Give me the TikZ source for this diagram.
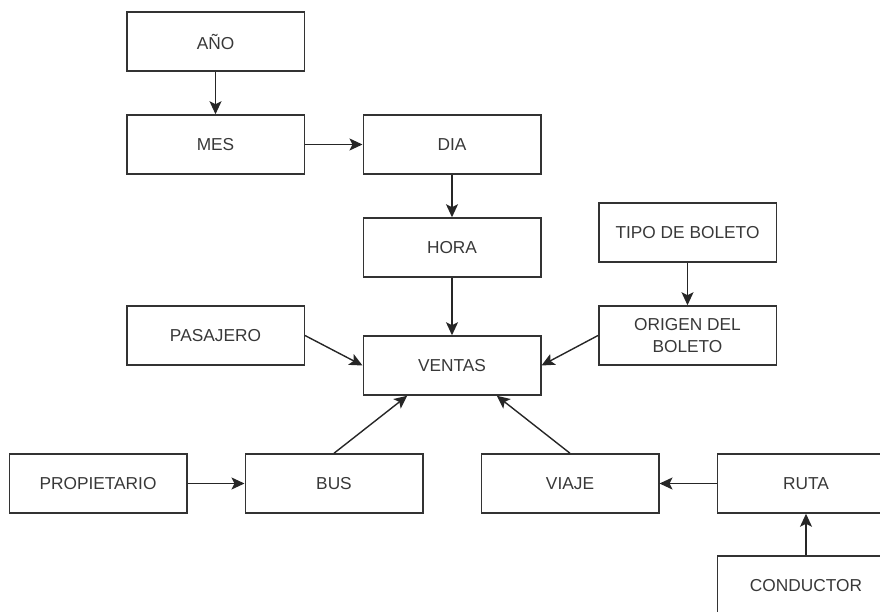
\documentclass[tikz,border=0pt]{standalone}
\usepackage{fontspec}
\setmainfont{Liberation Sans}
\usetikzlibrary{arrows.meta,calc}
\begin{document}
\begin{tikzpicture}[x=1pt,y=-1pt,
  box/.style={draw=black!80, line width=1.5pt, minimum width=177.5pt,
    minimum height=59pt, inner sep=0pt, text=black!78,
    font=\fontsize{17.3}{21.5}\selectfont, align=center},
  link/.style={draw=black!85, line width=1.4pt,
    -{Stealth[length=13pt,width=12pt,inset=3pt]}}]
\useasboundingbox (0,0) rectangle (880,612);
\clip (0,0) rectangle (880,612);

% entities
\node[box] (ano)    at (215.5,41.5)  {AÑO};
\node[box] (mes)    at (215.5,144.5) {MES};
\node[box] (dia)    at (452,144.5)   {DIA};
\node[box] (hora)   at (452,247.5)   {HORA};
\node[box] (tipo)   at (687.5,232.5) {TIPO DE BOLETO};
\node[box] (origen) at (687.5,335.5) {ORIGEN DEL\\BOLETO};
\node[box] (pasajero) at (215.5,335.5) {PASAJERO};
\node[box] (ventas) at (452,365.5)   {VENTAS};
\node[box] (prop)   at (98,483.5)    {PROPIETARIO};
\node[box] (bus)    at (334,483.5)   {BUS};
\node[box] (viaje)  at (570,483.5)   {VIAJE};
\node[box] (ruta)   at (806,483.5)   {RUTA};
\node[box] (cond)   at (806,585.5)   {CONDUCTOR};

% attachment points on the lower side of VENTAS
\coordinate (vL) at ($(ventas.south west)!0.25!(ventas.south east)$);
\coordinate (vR) at ($(ventas.south west)!0.75!(ventas.south east)$);

% relations
\draw[link] (ano) -- (mes);
\draw[link] (mes) -- (dia);
\draw[link] (dia) -- (hora);
\draw[link] (hora) -- (ventas);
\draw[link] (tipo) -- (origen);
\draw[link] (pasajero.east) -- (ventas.west);
\draw[link] (origen.west) -- (ventas.east);
\draw[link] (bus.north) -- (vL);
\draw[link] (viaje.north) -- (vR);
\draw[link] (prop) -- (bus);
\draw[link] (ruta) -- (viaje);
\draw[link] (cond) -- (ruta);
\end{tikzpicture}
\end{document}
